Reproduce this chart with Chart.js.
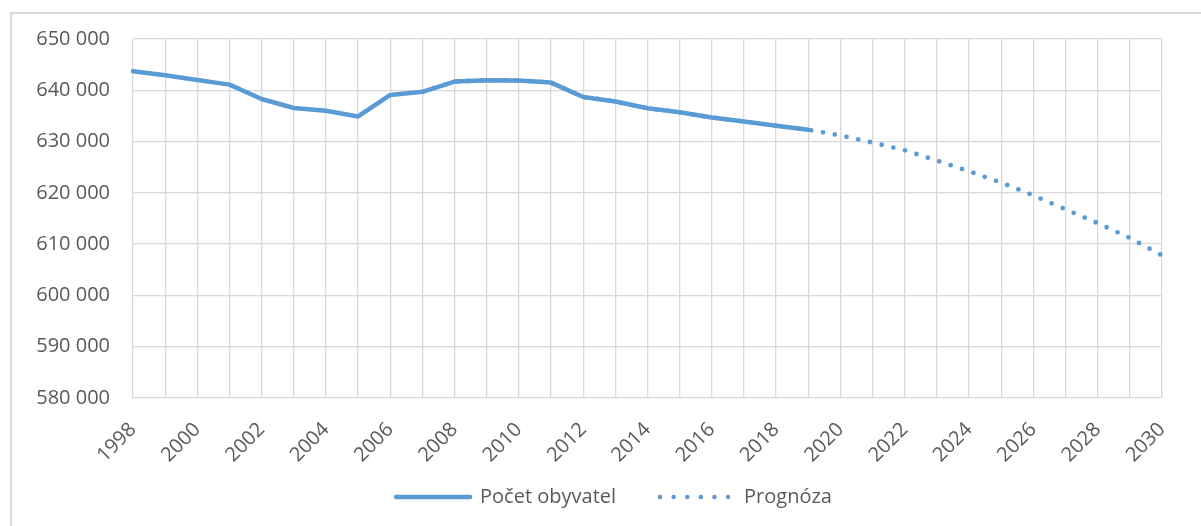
<!DOCTYPE html>
<html>
<head>
<meta charset="utf-8">
<script src="https://cdn.jsdelivr.net/npm/chart.js@4.4.1/dist/chart.umd.min.js"></script>
<style>
  html, body { margin: 0; padding: 0; background: #fff; overflow: hidden; width: 1201px; height: 526px; }
  #frame { position: absolute; left: 10px; top: 12px; width: 1210px; height: 530px; border: 2px solid #d9d9d9; box-sizing: border-box; }
  #c { position: absolute; left: 12px; top: 4px; }
</style>
</head>
<body>
<div id="frame"></div>
<canvas id="c" width="1204" height="520"></canvas>
<script>
const years = [1998,1999,2000,2001,2002,2003,2004,2005,2006,2007,2008,2009,2010,2011,2012,2013,2014,2015,2016,2017,2018,2019,2020,2021,2022,2023,2024,2025,2026,2027,2028,2029,2030];
const pocetObyvatel = [643700,642950,642000,641100,638300,636550,636000,634900,639100,639700,641700,641950,641900,641500,638700,637800,636500,635700,634700,633900,633100,632300,null,null,null,null,null,null,null,null,null,null,null];
const prognoza = [null,null,null,null,null,null,null,null,null,639700,641700,641950,641900,641500,638700,637800,636500,635700,634700,633900,633100,632300,631200,629800,628300,626300,624200,622000,619500,616800,614100,611200,607800];
const yTicks = { min: 580000, max: 650000, step: 10000 };
const seriesNames = ['Počet obyvatel', 'Prognóza'];

const blue = '#5B9BD5';
const textColor = '#595959';
const gridColor = '#d9d9d9';
const fontFamily = "'Open Sans', 'Noto Sans', sans-serif";

function fmt(v) {
  return String(v).replace(/\B(?=(\d{3})+(?!\d))/g, ' ');
}

const noLabelClip = {
  id: 'noLabelClip',
  beforeDraw(chart) {
    const x = chart.scales.x;
    if (x) { x._computeLabelArea = function() { return undefined; }; }
  }
};

new Chart(document.getElementById('c'), {
  type: 'line',
  plugins: [noLabelClip],
  data: {
    labels: years.map(String),
    datasets: [
      {
        label: seriesNames[0],
        data: pocetObyvatel,
        borderColor: blue,
        backgroundColor: blue,
        borderWidth: 4.5,
        pointRadius: 0,
        tension: 0,
        borderJoinStyle: 'round',
        borderCapStyle: 'round',
        spanGaps: false
      },
      {
        label: seriesNames[1],
        data: prognoza,
        borderColor: blue,
        backgroundColor: blue,
        borderWidth: 4.8,
        borderDash: [0, 12],
        borderCapStyle: 'round',
        pointRadius: 0,
        tension: 0,
        spanGaps: false
      }
    ]
  },
  options: {
    responsive: false,
    animation: false,
    layout: { padding: { left: 0, right: 0, top: 14, bottom: 7 } },
    plugins: {
      title: { display: false },
      tooltip: { enabled: false },
      legend: {
        position: 'bottom',
        labels: {
          usePointStyle: true,
          pointStyleWidth: 74,
          padding: 44,
          color: textColor,
          font: { family: fontFamily, size: 20 },
          generateLabels: function(chart) {
            return chart.data.datasets.map(function(ds, i) {
              return {
                text: ds.label,
                fillStyle: 'rgba(0,0,0,0)',
                strokeStyle: blue,
                lineWidth: 4.5,
                lineDash: i === 0 ? [] : [0, 13.6],
                lineCap: 'round',
                pointStyle: 'line',
                fontColor: textColor,
                hidden: false,
                datasetIndex: i
              };
            });
          }
        }
      }
    },
    scales: {
      x: {
        type: 'category',
        offset: false,
        grid: { display: true, color: gridColor, lineWidth: 1.3, drawTicks: false },
        border: { display: false },
        afterFit: function(s) { s.height = 45; },
        ticks: {
          autoSkip: false,
          maxRotation: 45,
          minRotation: 45,
          padding: 20,
          color: textColor,
          font: { family: fontFamily, size: 20 },
          callback: function(val, idx) { return (years[idx] % 2 === 0) ? String(years[idx]) : ''; }
        }
      },
      y: {
        min: yTicks.min,
        max: yTicks.max,
        grid: { display: true, color: gridColor, lineWidth: 1.3, drawTicks: false },
        border: { display: false },
        afterFit: function(s) { s.width = 121; },
        ticks: {
          stepSize: yTicks.step,
          padding: 23,
          color: textColor,
          font: { family: fontFamily, size: 20 },
          callback: function(v) { return fmt(v); }
        }
      },
      spacer: {
        type: 'linear',
        position: 'right',
        display: true,
        grid: { display: false, drawTicks: false },
        border: { display: false },
        ticks: { display: false },
        afterFit: function(s) { s.width = 54; }
      }
    }
  }
});
</script>
</body>
</html>
